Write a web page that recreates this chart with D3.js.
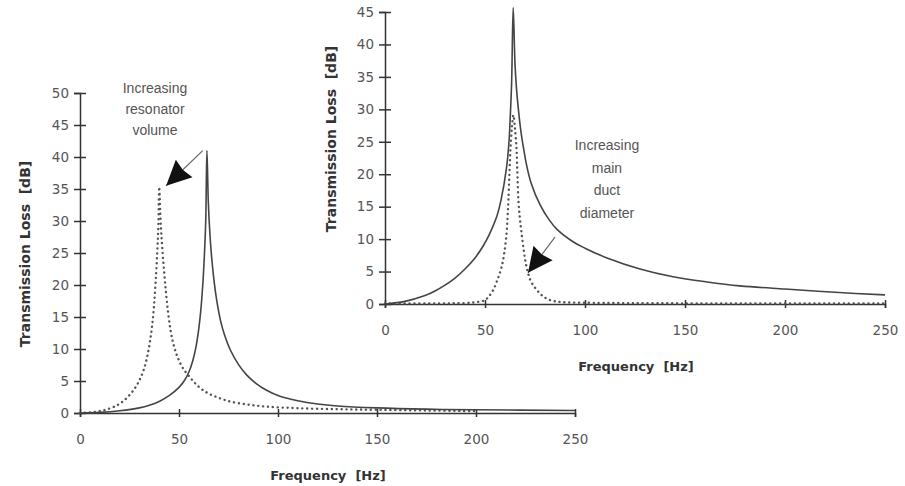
<!DOCTYPE html>
<html>
<head>
<meta charset="utf-8">
<script src="https://cdn.jsdelivr.net/npm/d3@7"></script>
<style>
  body { margin: 0; background: #fff; }
  svg { display: block; }
</style>
</head>
<body>
<div id="chart"></div>
<script>
// tick values
const xTicks = [0, 50, 100, 150, 200, 250];
const leftYTicks = [0, 5, 10, 15, 20, 25, 30, 35, 40, 45, 50];
const rightYTicks = [0, 5, 10, 15, 20, 25, 30, 35, 40, 45];

// left panel: resonator volume
const leftSolidFreq = [0, 10, 20, 30, 35, 40, 45, 50, 53, 55, 57, 58.5, 60, 61, 62, 62.8, 63.5, 64.1, 64.8, 65.6, 66.5, 67.5, 69, 71, 73, 76, 80, 84, 89, 94, 101, 110, 120, 130, 150, 175, 200, 250];
const leftSolidTL   = [0, 0.1, 0.35, 0.8, 1.2, 1.8, 2.7, 4, 5.2, 6.4, 8.2, 10.2, 13.2, 16, 20, 24.5, 30, 41, 33, 28, 24.3, 21.2, 17.7, 14.4, 12.2, 9.8, 7.6, 6, 4.6, 3.6, 2.6, 1.9, 1.4, 1.1, 0.8, 0.6, 0.5, 0.4];
const leftDotFreq = [0, 8, 14, 19, 22, 25, 28, 30, 32, 33.8, 35.2, 36.4, 37.4, 38.2, 39, 39.6, 40, 40.7, 41.5, 42.5, 43.5, 44.5, 45.7, 47, 48.5, 50, 52, 55.5, 59.6, 64.6, 70.7, 75.8, 84, 94, 110, 130, 150, 175, 200];
const leftDotTL   = [0, 0.2, 0.6, 1.25, 1.9, 2.8, 4, 5.1, 6.6, 8.6, 10.9, 13.6, 16.8, 20.5, 25, 29.5, 35.3, 30, 26, 22, 18.6, 15.7, 13, 11, 9.4, 8.2, 7, 5.6, 4.2, 3.1, 2.3, 1.8, 1.35, 1, 0.75, 0.6, 0.5, 0.4, 0.3];

// right panel: main duct diameter
const rightSolidFreq = [0, 10, 20, 25, 30, 35, 40, 45, 49, 52, 55.8, 58, 60.8, 62, 62.5, 63.3, 64.1, 65, 65.8, 66.7, 68, 69.5, 70.8, 73, 77.5, 82, 86, 94, 100, 111, 127.5, 144, 161, 177.5, 200, 225, 250];
const rightSolidTL   = [0, 0.4, 1.3, 2, 2.9, 4, 5.4, 7.1, 8.9, 10.6, 13.4, 16, 21.1, 25, 28, 34, 45.7, 37, 33, 30, 26.5, 23.6, 21.4, 18.7, 15.3, 13, 11.5, 9.6, 8.6, 7.1, 5.4, 4.2, 3.4, 2.8, 2.3, 1.8, 1.4];
const rightDotFreq = [0, 25, 40, 47, 50, 52, 54.2, 56.3, 58.3, 59.7, 60.8, 61.3, 61.7, 62.2, 62.7, 63.4, 64.2, 65, 65.8, 66.2, 66.7, 67.4, 68.3, 69.5, 70.8, 72.8, 75.8, 79, 82.5, 88, 100, 150, 250];
const rightDotTL   = [0.1, 0.1, 0.15, 0.35, 0.6, 1.2, 2.2, 3.8, 5.7, 8, 10.9, 13.5, 16, 20, 23.7, 27, 29.1, 27, 23.7, 20, 16, 13.3, 10.9, 8, 5.7, 3.6, 2.2, 1.2, 0.6, 0.3, 0.2, 0.1, 0.1];

// annotation arrows [from, to] in data units
const leftArrow = [[62, 41], [43.5, 35.5]];
const rightArrow = [[85, 10.3], [71.5, 4.8]];
const leftNote = ["Increasing", "resonator", "volume"];
const rightNote = ["Increasing", "main", "duct", "diameter"];

const width = 905, height = 486;

const svg = d3.select("#chart").append("svg")
    .attr("width", width)
    .attr("height", height);

// arrow head
svg.append("defs").append("marker")
    .attr("id", "head")
    .attr("markerUnits", "userSpaceOnUse")
    .attr("viewBox", "-28 -14 30 28")
    .attr("markerWidth", 30).attr("markerHeight", 28)
    .attr("refX", 0).attr("refY", 0)
    .attr("orient", "auto")
    .append("path")
    .attr("d", "M0,0L-25,-12L-23,0L-25,12Z")
    .attr("fill", "#111");

function zip(fs, vs) {
    return fs.map((f, i) => ({ f: f, v: vs[i] }));
}

function drawPanel(p) {
    const g = svg.append("g");

    const x = d3.scaleLinear().domain([0, 250]).range(p.xRange);
    const y = d3.scaleLinear().domain(p.yDomain).range(p.yRange);

    // Y-axis
    const gy = g.append("g")
        .attr("transform", `translate(${p.xRange[0]},0)`)
        .call(d3.axisLeft(y).tickValues(p.yTicks).tickSizeOuter(0).tickSize(6).tickPadding(5));
    gy.selectAll(".tick line").attr("x1", -6).attr("x2", 6);

    // X-axis
    const gx = g.append("g")
        .attr("transform", `translate(0,${p.yRange[0]})`)
        .call(d3.axisBottom(x).tickValues(xTicks).tickSizeOuter(0).tickSize(4).tickPadding(17));
    gx.selectAll(".tick line").attr("y1", -4).attr("y2", 4);

    g.selectAll(".domain, .tick line")
        .attr("stroke", "#333")
        .attr("stroke-width", 1.5);
    g.selectAll(".tick text")
        .attr("fill", "#555")
        .style("font-family", "'DejaVu Sans', Verdana, sans-serif")
        .style("font-size", "13.5px");

    const line = d3.line()
        .x(d => x(d.f))
        .y(d => y(d.v))
        .curve(d3.curveCatmullRom.alpha(0.5));

    // dotted curve
    g.append("path")
        .datum(zip(p.dotFreq, p.dotTL))
        .attr("fill", "none")
        .attr("stroke", "#555")
        .attr("stroke-width", 2.4)
        .attr("stroke-linecap", "round")
        .attr("stroke-dasharray", "0.1 4.8")
        .attr("d", line);

    // solid curve
    g.append("path")
        .datum(zip(p.solidFreq, p.solidTL))
        .attr("fill", "none")
        .attr("stroke", "#444")
        .attr("stroke-width", 1.6)
        .attr("d", line);

    // arrow
    g.append("line")
        .attr("x1", x(p.arrow[0][0])).attr("y1", y(p.arrow[0][1]))
        .attr("x2", x(p.arrow[1][0])).attr("y2", y(p.arrow[1][1]))
        .attr("stroke", "#666")
        .attr("stroke-width", 1.2)
        .attr("marker-end", "url(#head)");

    // note
    g.append("text")
        .attr("text-anchor", "middle")
        .attr("fill", "#555")
        .style("font-family", "'Liberation Sans', Arial, sans-serif")
        .style("font-size", "14px")
        .selectAll("tspan")
        .data(p.note)
        .enter().append("tspan")
        .attr("x", p.notePos[0])
        .attr("y", (d, i) => p.notePos[1] + i * p.noteStep)
        .text(d => d);

    // X-axis label
    g.append("text")
        .attr("text-anchor", "middle")
        .attr("x", p.xLabel[0])
        .attr("y", p.xLabel[1])
        .attr("fill", "#333")
        .style("font-family", "'DejaVu Sans', Verdana, sans-serif")
        .style("font-weight", "bold")
        .style("font-size", "13px")
        .style("white-space", "pre")
        .text("Frequency  [Hz]");

    // Y-axis label
    g.append("text")
        .attr("text-anchor", "middle")
        .attr("transform", `translate(${p.yLabel[0]},${p.yLabel[1]}) rotate(-90)`)
        .attr("fill", "#333")
        .style("font-family", "'DejaVu Sans', Verdana, sans-serif")
        .style("font-weight", "bold")
        .style("font-size", "14px")
        .style("white-space", "pre")
        .text("Transmission Loss  [dB]");
}

drawPanel({
    xRange: [80, 575], yRange: [413, 93], yDomain: [0, 50], yTicks: leftYTicks,
    solidFreq: leftSolidFreq, solidTL: leftSolidTL,
    dotFreq: leftDotFreq, dotTL: leftDotTL,
    arrow: leftArrow,
    note: leftNote, notePos: [155, 93], noteStep: 21,
    xLabel: [328, 480], yLabel: [30, 254]
});

drawPanel({
    xRange: [385, 885], yRange: [304, 12], yDomain: [0, 45], yTicks: rightYTicks,
    solidFreq: rightSolidFreq, solidTL: rightSolidTL,
    dotFreq: rightDotFreq, dotTL: rightDotTL,
    arrow: rightArrow,
    note: rightNote, notePos: [607, 150], noteStep: 22.5,
    xLabel: [636, 371], yLabel: [336, 139]
});
</script>
</body>
</html>
